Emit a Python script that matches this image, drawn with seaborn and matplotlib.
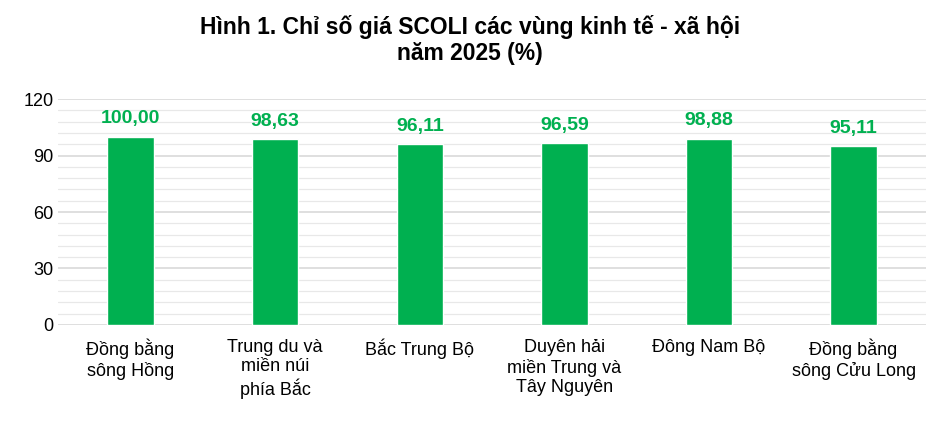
import matplotlib
matplotlib.use("Agg")
import matplotlib.pyplot as plt
import seaborn as sns
from matplotlib.ticker import MultipleLocator

regions = ["Đồng bằng\nsông Hồng", "Trung du và\nmiền núi\nphía Bắc", "Bắc Trung Bộ",
           "Duyên hải\nmiền Trung và\nTây Nguyên", "Đông Nam Bộ", "Đồng bằng\nsông Cửu Long"]
values = [100.00, 98.63, 96.11, 96.59, 98.88, 95.11]
labels = ["100,00", "98,63", "96,11", "96,59", "98,88", "95,11"]

sns.set_style("white")
plt.rcParams["font.family"] = ["Liberation Sans", "DejaVu Sans"]

fig, ax = plt.subplots(figsize=(9.4, 4.22), dpi=100)
fig.subplots_adjust(left=0.062, right=0.985, top=0.765, bottom=0.23)

sns.barplot(x=regions, y=values, color="#00B050", saturation=1, width=0.32, ax=ax, zorder=3)

for i, (v, t) in enumerate(zip(values, labels)):
    ax.text(i, v + 5, t, ha="center", va="bottom", color="#00B050",
            fontsize=14, fontweight="bold")

ax.set_ylim(0, 120)
ax.yaxis.set_major_locator(MultipleLocator(30))
ax.yaxis.set_minor_locator(MultipleLocator(6))
ax.grid(axis="y", which="major", color="#d9d9d9", linewidth=1.2, zorder=0)
ax.grid(axis="y", which="minor", color="#e8e8e8", linewidth=0.9, zorder=0)
ax.set_axisbelow(True)
for s in ax.spines.values():
    s.set_visible(False)
ax.tick_params(axis="both", length=0, labelsize=13, colors="black")
ax.tick_params(axis="x", pad=10)

fig.suptitle("Hình 1. Chỉ số giá SCOLI các vùng kinh tế - xã hội\nnăm 2025 (%)",
             fontsize=16.5, fontweight="bold", color="black", y=0.965)

fig.savefig("out.png", dpi=100)
